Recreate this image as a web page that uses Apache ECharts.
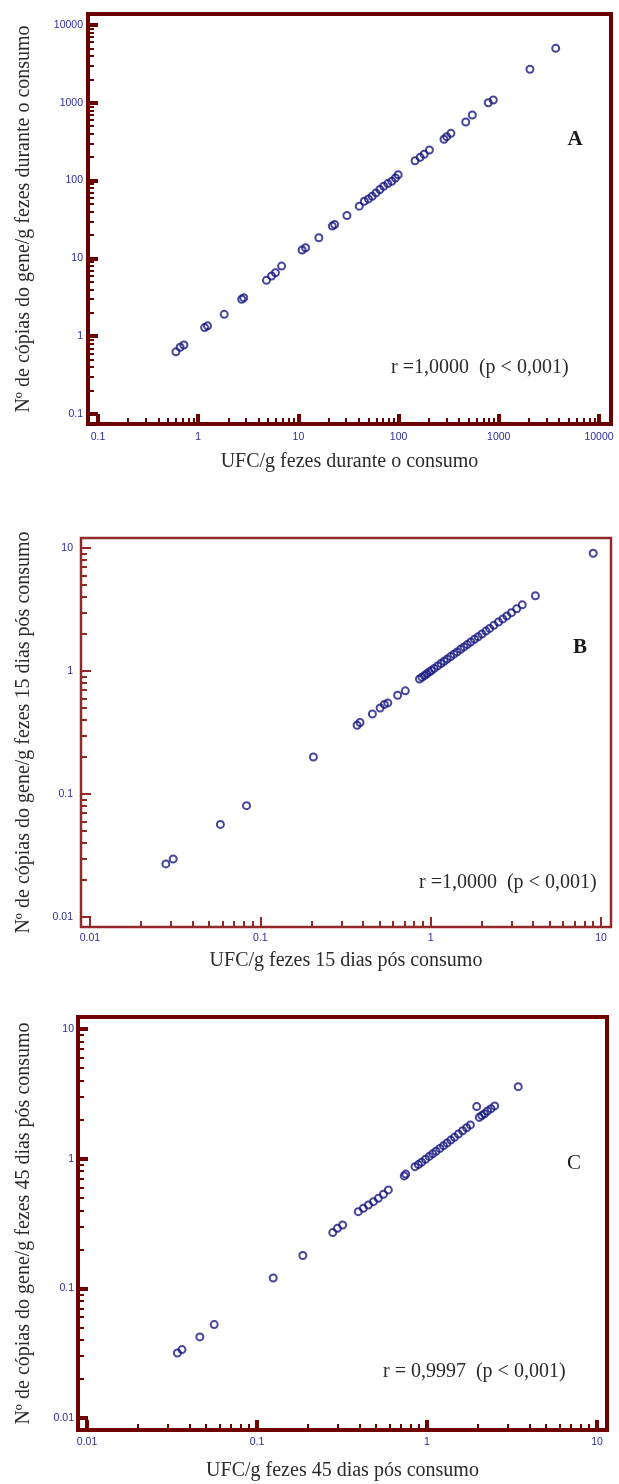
<!DOCTYPE html>
<html><head><meta charset="utf-8">
<script src="https://cdn.jsdelivr.net/npm/echarts@6/dist/echarts.min.js"></script>
<style>html,body{margin:0;padding:0;background:#fff}#c{width:619px;height:1484px}</style>
</head><body><div id="c"></div>
<script>
// ---- Panel A data ----
const aX = [0.60, 0.66, 0.72, 1.16, 1.24, 1.82, 2.72, 2.85, 4.8, 5.4, 5.9, 6.8, 10.9, 11.8, 16.0, 21.8, 23.0, 30.5, 40.5, 45.5, 50, 54.5, 59.5, 65, 71, 78, 85.5, 93, 99, 146, 164, 180, 203, 284, 302, 333, 468, 544, 785, 881, 2046, 3700];
const aY = [0.63, 0.72, 0.77, 1.29, 1.36, 1.91, 2.98, 3.13, 5.22, 5.94, 6.55, 7.97, 12.8, 13.7, 18.4, 26.0, 27.3, 35.6, 46.9, 54.3, 58.2, 63.0, 69.5, 76.7, 84.6, 91.5, 98.0, 108, 119, 180, 199, 218, 247, 340, 367, 405, 566, 697, 1002, 1086, 2700, 5010];
// ---- Panel B data ----
const bX = [0.0279, 0.0308, 0.0583, 0.083, 0.205, 0.370, 0.385, 0.455, 0.505, 0.535, 0.56, 0.64, 0.71,
  0.86, 0.89, 0.92, 0.95, 0.98, 1.01, 1.05, 1.10, 1.15, 1.20, 1.25, 1.31, 1.37, 1.43, 1.50, 1.57, 1.64, 1.72, 1.81, 1.90, 2.00, 2.11, 2.22, 2.35, 2.50, 2.65, 2.80, 2.98, 3.20, 3.45,
  4.12, 9.0];
const bY = [0.0270, 0.0296, 0.0566, 0.0804, 0.200, 0.362, 0.381, 0.447, 0.500, 0.535, 0.55, 0.635, 0.69,
  0.86, 0.89, 0.92, 0.95, 0.98, 1.01, 1.05, 1.10, 1.15, 1.20, 1.25, 1.31, 1.37, 1.43, 1.50, 1.57, 1.64, 1.72, 1.81, 1.90, 2.00, 2.11, 2.22, 2.35, 2.50, 2.65, 2.80, 2.98, 3.20, 3.45,
  4.09, 9.06];
// ---- Panel C data ----
const cX = [0.034, 0.0362, 0.0461, 0.056, 0.1245, 0.186, 0.279, 0.297, 0.319, 0.394, 0.422, 0.452, 0.484, 0.517, 0.554, 0.592, 0.735, 0.75, 0.85, 0.89, 0.93, 0.98, 1.03, 1.08, 1.13, 1.19, 1.25, 1.31, 1.38, 1.45, 1.53, 1.62, 1.71, 1.80, 1.96, 2.03, 2.10, 2.18, 2.27, 2.38, 2.50, 3.44];
const cY = [0.0317, 0.0337, 0.0422, 0.0525, 0.120, 0.179, 0.269, 0.290, 0.308, 0.390, 0.414, 0.439, 0.466, 0.494, 0.531, 0.574, 0.736, 0.76, 0.867, 0.90, 0.94, 0.99, 1.04, 1.09, 1.14, 1.20, 1.26, 1.32, 1.39, 1.46, 1.55, 1.64, 1.73, 1.82, 2.52, 2.08, 2.15, 2.22, 2.33, 2.43, 2.55, 3.59];

// ---- tick labels ----
const aTicks = [0.1, 1, 10, 100, 1000, 10000];
const bTicks = [0.01, 0.1, 1, 10];
const cTicks = [0.01, 0.1, 1, 10];

// ---- texts ----
const aNames = { x: 'UFC/g fezes durante o consumo', y: 'Nº de cópias do gene/g fezes durante o consumo' };
const bNames = { x: 'UFC/g fezes 15 dias pós consumo', y: 'Nº de cópias do gene/g fezes 15 dias pós consumo' };
const cNames = { x: 'UFC/g fezes 45 dias pós consumo', y: 'Nº de cópias do gene/g fezes 45 dias pós consumo' };
const letters = ['A', 'B', 'C'];
const stats = ['r =1,0000  (p < 0,001)', 'r =1,0000  (p < 0,001)', 'r = 0,9997  (p < 0,001)'];

function minors(major) {
  const out = [];
  for (let i = 0; i < major.length - 1; i++)
    for (let k = 2; k <= 9; k++) out.push(+(major[i] * k).toPrecision(4));
  return out;
}
const zip = (xs, ys) => xs.map((v, i) => [v, ys[i]]);

const SERIF = '"Liberation Serif", "Times New Roman", serif';
const LABF = '"Liberation Sans Narrow", "Liberation Sans", Arial, sans-serif';
const LABC = '#2c2c9c';

const panels = [
  { grid: { left: 88, top: 14, width: 523, height: 410 }, frame: '#6b0000', fw: 4,
    xr: [0.0795, 13180], yr: [0.0744, 13840], ticks: aTicks, names: aNames, data: zip(aX, aY),
    tk: { MW: 4, ML: 10, mW: 2, mL: 6 }, gapX: 28, gapY: 54, lmX: 8, lmY: 5,
    letter: [575, 140, 'bold'], stat: [391, 368] },
  { grid: { left: 81, top: 538, width: 530, height: 389 }, frame: '#932a2a', fw: 2.5,
    xr: [0.00886, 11.45], yr: [0.00829, 12.06], ticks: bTicks, names: bNames, data: zip(bX, bY),
    tk: { MW: 2, ML: 10, mW: 2, mL: 6 }, gapX: 24, gapY: 47, lmX: 6, lmY: 8,
    letter: [580, 648, 'bold'], stat: [419, 883] },
  { grid: { left: 78, top: 1017, width: 529, height: 413 }, frame: '#700000', fw: 4,
    xr: [0.00885, 11.45], yr: [0.00808, 12.37], ticks: cTicks, names: cNames, data: zip(cX, cY),
    tk: { MW: 4, ML: 10, mW: 2, mL: 6 }, gapX: 31, gapY: 44, lmX: 7, lmY: 4,
    letter: [574, 1163, 'normal'], stat: [383, 1372] }
];

const grid = [], xAxis = [], yAxis = [], series = [], graphic = [];
panels.forEach((p, i) => {
  grid.push(Object.assign({ show: true, borderColor: p.frame, borderWidth: p.fw, backgroundColor: '#fff', outerBoundsMode: 'none', containLabel: false }, p.grid));
  const nameStyle = { fontFamily: SERIF, fontSize: 20, color: '#2a2a2a' };
  const fmt = v => String(+(+v).toPrecision(6));
  const mk = (dim, major) => {
    const r = dim === 'x' ? p.xr : p.yr;
    const base = { type: 'log', logBase: 10, gridIndex: i, min: r[0], max: r[1],
      position: dim === 'x' ? 'bottom' : 'left', splitLine: { show: false }, axisLine: { show: false } };
    if (major) {
      return Object.assign(base, {
        name: p.names[dim], nameLocation: 'middle', nameGap: dim === 'x' ? p.gapX : p.gapY,
        nameRotate: dim === 'x' ? 0 : 90, nameTextStyle: nameStyle,
        axisTick: { show: true, inside: true, length: p.tk.ML, customValues: p.ticks, lineStyle: { color: p.frame, width: p.tk.MW } },
        axisLabel: { show: true, customValues: p.ticks, formatter: fmt, margin: dim === 'x' ? p.lmX : p.lmY,
          fontFamily: LABF, fontSize: 10.5, color: LABC }
      });
    }
    return Object.assign(base, {
      axisTick: { show: true, inside: true, length: p.tk.mL, customValues: minors(p.ticks), lineStyle: { color: p.frame, width: p.tk.mW } },
      axisLabel: { show: false }
    });
  };
  xAxis.push(mk('x', true), mk('x', false));
  yAxis.push(mk('y', true), mk('y', false));
  series.push({ type: 'scatter', xAxisIndex: 2 * i, yAxisIndex: 2 * i, data: p.data,
    symbol: 'circle', symbolSize: 7,
    itemStyle: { color: 'rgba(255,255,255,0)', borderColor: '#161680', borderWidth: 2 },
    emphasis: { disabled: true }, silent: true });
  graphic.push({ type: 'text', x: p.letter[0], y: p.letter[1], z: 10,
    style: { text: letters[i], font: p.letter[2] + ' 21px ' + SERIF, fill: '#1a1a1a', align: 'center', verticalAlign: 'middle', textAlign: 'center', textVerticalAlign: 'middle' } });
  graphic.push({ type: 'text', x: p.stat[0], y: p.stat[1], z: 10,
    style: { text: stats[i], font: '20px ' + SERIF, fill: '#2a2a2a', align: 'left', verticalAlign: 'middle', textAlign: 'left', textVerticalAlign: 'middle' } });
});

const chart = echarts.init(document.getElementById('c'), null, { renderer: 'canvas' });
chart.setOption({ animation: false, backgroundColor: '#fff', grid, xAxis, yAxis, series, graphic });
</script></body></html>
